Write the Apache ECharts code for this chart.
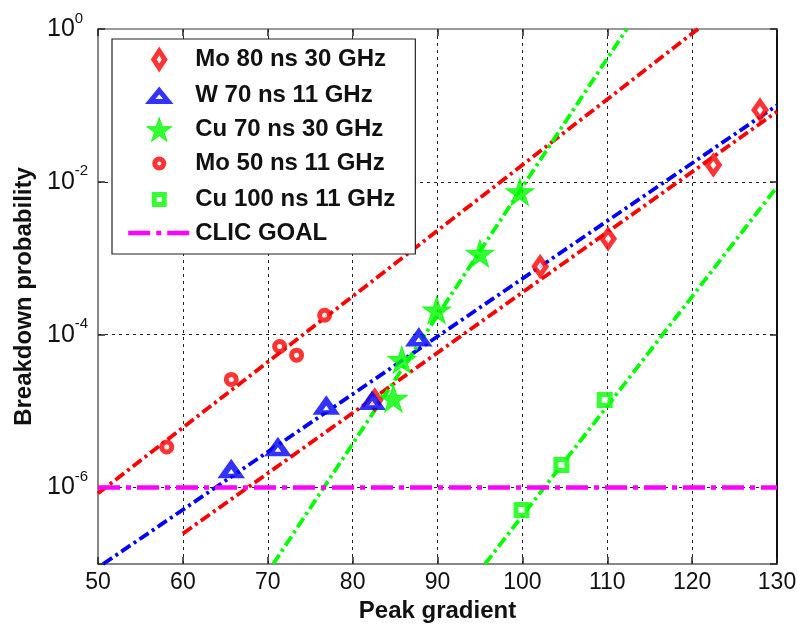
<!DOCTYPE html>
<html>
<head>
<meta charset="utf-8">
<script src="https://cdn.jsdelivr.net/npm/echarts@6/dist/echarts.min.js"></script>
<style>
html,body{margin:0;padding:0;background:#fff;}
#chart{width:797px;height:628px;}
</style>
</head>
<body>
<div id="chart"></div>
<script>
// ---------- data ----------
const xMin = 50, xMax = 130, xStep = 10;
const yMin = 1e-7, yMax = 1;

const seriesNames = ['Mo 80 ns 30 GHz', 'W 70 ns 11 GHz', 'Cu 70 ns 30 GHz', 'Mo 50 ns 11 GHz', 'Cu 100 ns 11 GHz', 'CLIC GOAL'];

// measured points
const mo80X = [82.6, 102.1, 110.1, 122.5, 128.0];
const mo80Y = [1.4e-5, 7.8e-4, 1.8e-3, 1.66e-2, 8.7e-2];

const w70X = [65.7, 71.2, 76.9, 82.3, 87.8];
const w70Y = [1.7e-6, 3.3e-6, 1.15e-5, 1.33e-5, 9e-5];

const cu70X = [84.8, 85.8, 89.9, 95.0, 99.7];
const cu70Y = [1.47e-5, 4.7e-5, 2.1e-4, 1.16e-3, 7.4e-3];

const mo50X = [58.1, 65.7, 71.4, 73.4, 76.7];
const mo50Y = [3.4e-6, 2.6e-5, 7.0e-5, 5.4e-5, 1.8e-4];

const cu100X = [99.9, 104.6, 109.7];
const cu100Y = [5.1e-7, 1.97e-6, 1.4e-5];

// fit lines (end points)
const fitMo80X = [60, 130];     const fitMo80Y = [2.5e-7, 8.3e-2];
const fitW70X = [50.6, 130];    const fitW70Y = [1e-7, 1e-1];
const fitCu70X = [70.65, 112.3]; const fitCu70Y = [1e-7, 1];
const fitMo50X = [50, 120.7];   const fitMo50Y = [8.4e-7, 1];
const fitCu100X = [95.6, 130];  const fitCu100Y = [1e-7, 8.6e-3];

const clicX = [50, 130];
const clicY = [1e-6, 1e-6];

// ---------- helpers ----------
const pairs = (xs, ys) => xs.map((x, i) => [x, ys[i]]);
const FONT = '"Liberation Sans", Arial, Helvetica, sans-serif';
const RED = '#ff0000', BLUE = '#0000ff', GREEN = '#00ff00', MAG = '#ff00ff';
const dashDot = [11, 4, 3, 4];

const starPath = 'path://M0,-10L2.245,-3.09L9.51,-3.09L3.633,1.18L5.88,8.09L0,3.82L-5.88,8.09L-3.633,1.18L-9.51,-3.09L-2.245,-3.09Z';
const legendIcons = {
  diamond: 'path://M0,-12M0,12M0,-8.5L5.5,0L0,8.5L-5.5,0Z',
  triangle: 'path://M0,-12M0,12M0,-5L9,6L-9,6Z',
  star: starPath,
  circle: 'path://M0,-12M0,12M-4.5,0A4.5,4.5,0,1,1,4.5,0A4.5,4.5,0,1,1,-4.5,0Z',
  square: 'path://M0,-12M0,12M-5,-5L5,-5L5,5L-5,5Z'
};

function fitLine(name, xs, ys, color) {
  return {
    name: name, type: 'line', data: pairs(xs, ys), symbol: 'none', silent: true,
    lineStyle: { color: color, width: 3.8, type: dashDot, cap: 'butt' }, z: 2
  };
}

const chart = echarts.init(document.getElementById('chart'), null, { renderer: 'canvas' });

const option = {
  animation: false,
  backgroundColor: '#fff',
  grid: { left: 98, right: 20, top: 29, bottom: 64, containLabel: false, outerBoundsMode: 'none' },
  legend: {
    orient: 'vertical', left: 112, top: 39,
    padding: [6, 20, 9, 14], itemGap: 7, itemWidth: 62, itemHeight: 24,
    backgroundColor: '#fff', borderColor: '#222', borderWidth: 1.2,
    textStyle: { fontSize: 24, fontWeight: 'bold', fontFamily: FONT, color: '#111' },
    itemStyle: { borderWidth: 5 },
    lineStyle: { width: 4.5 },
    data: [
      { name: seriesNames[0], icon: legendIcons.diamond },
      { name: seriesNames[1], icon: legendIcons.triangle },
      { name: seriesNames[2], icon: legendIcons.star, itemStyle: { borderWidth: 1 } },
      { name: seriesNames[3], icon: legendIcons.circle },
      { name: seriesNames[4], icon: legendIcons.square },
      { name: seriesNames[5], itemStyle: { opacity: 0 } }
    ],
    z: 10
  },
  xAxis: [{
    type: 'value', min: xMin, max: xMax, interval: xStep, position: 'bottom',
    name: 'Peak gradient', nameLocation: 'middle', nameGap: 35,
    nameTextStyle: { fontSize: 24, fontWeight: 'bold', fontFamily: FONT, color: '#111' },
    axisLine: { show: true, lineStyle: { color: '#888', width: 2 } },
    axisTick: { show: true, inside: true, length: 7, lineStyle: { color: '#222', width: 1.5 } },
    axisLabel: { fontSize: 23, fontFamily: FONT, color: '#111', margin: 7 },
    splitLine: { show: true, showMinLine: false, showMaxLine: false, lineStyle: { color: '#222', width: 1, type: [3, 4] } }
  }, {
    type: 'value', min: xMin, max: xMax, interval: xStep, position: 'top',
    axisLine: { show: true, lineStyle: { color: '#999', width: 2 } },
    axisTick: { show: true, inside: true, length: 7, lineStyle: { color: '#222', width: 1.5 } },
    axisLabel: { show: false },
    splitLine: { show: false }
  }],
  yAxis: [{
    type: 'log', logBase: 100, min: yMin, max: yMax, position: 'left',
    name: 'Breakdown probability', nameLocation: 'middle', nameGap: 62, nameRotate: 90,
    nameTextStyle: { fontSize: 24, fontWeight: 'bold', fontFamily: FONT, color: '#111' },
    axisLine: { show: true, lineStyle: { color: '#888', width: 2 } },
    axisTick: { show: true, inside: true, length: 7, lineStyle: { color: '#222', width: 1.5 } },
    axisLabel: {
      align: 'left', margin: 51,
      formatter: function (v) {
        const e = Math.round(Math.log10(v));
        if (e % 2 !== 0) return '';
        return '{b|10}{s|' + e + '}';
      },
      rich: {
        b: { fontSize: 25, fontFamily: FONT, color: '#111', lineHeight: 36 },
        s: { fontSize: 15, fontFamily: FONT, color: '#111', lineHeight: 16, verticalAlign: 'top' }
      }
    },
    splitLine: { show: true, showMinLine: false, showMaxLine: false, lineStyle: { color: '#222', width: 1, type: [3, 4] } }
  }, {
    type: 'log', logBase: 100, min: yMin, max: yMax, position: 'right',
    axisLine: { show: true, lineStyle: { color: '#111', width: 2 } },
    axisTick: { show: true, inside: true, length: 7, lineStyle: { color: '#222', width: 1.5 } },
    axisLabel: { show: false },
    splitLine: { show: false }
  }],
  series: [
    fitLine('fit Mo 50', fitMo50X, fitMo50Y, RED),
    fitLine('fit Mo 80', fitMo80X, fitMo80Y, RED),
    fitLine('fit W 70', fitW70X, fitW70Y, BLUE),
    fitLine('fit Cu 70', fitCu70X, fitCu70Y, GREEN),
    fitLine('fit Cu 100', fitCu100X, fitCu100Y, GREEN),
    {
      name: seriesNames[5], type: 'line', data: pairs(clicX, clicY), symbol: 'none', silent: true,
      lineStyle: { color: MAG, width: 4.5, type: [22, 6, 5, 6], cap: 'butt' }, itemStyle: { color: MAG }, z: 3
    },
    {
      name: seriesNames[0], type: 'scatter', data: pairs(mo80X, mo80Y),
      symbol: 'diamond', symbolSize: [12, 17],
      itemStyle: { color: '#fff', borderColor: RED, borderWidth: 5 }, z: 5
    },
    {
      name: seriesNames[1], type: 'scatter', data: pairs(w70X, w70Y),
      symbol: 'triangle', symbolSize: [17, 12],
      itemStyle: { color: '#fff', borderColor: BLUE, borderWidth: 5.5 }, z: 5
    },
    {
      name: seriesNames[2], type: 'scatter', data: pairs(cu70X, cu70Y),
      symbol: starPath, symbolSize: [28, 27],
      itemStyle: { color: GREEN, borderColor: GREEN, borderWidth: 1 }, z: 6
    },
    {
      name: seriesNames[3], type: 'scatter', data: pairs(mo50X, mo50Y),
      symbol: 'circle', symbolSize: 10,
      itemStyle: { color: '#fff', borderColor: RED, borderWidth: 5 }, z: 5
    },
    {
      name: seriesNames[4], type: 'scatter', data: pairs(cu100X, cu100Y),
      symbol: 'rect', symbolSize: 11,
      itemStyle: { color: '#fff', borderColor: GREEN, borderWidth: 5 }, z: 5
    }
  ]
};

chart.setOption(option);
</script>
</body>
</html>
